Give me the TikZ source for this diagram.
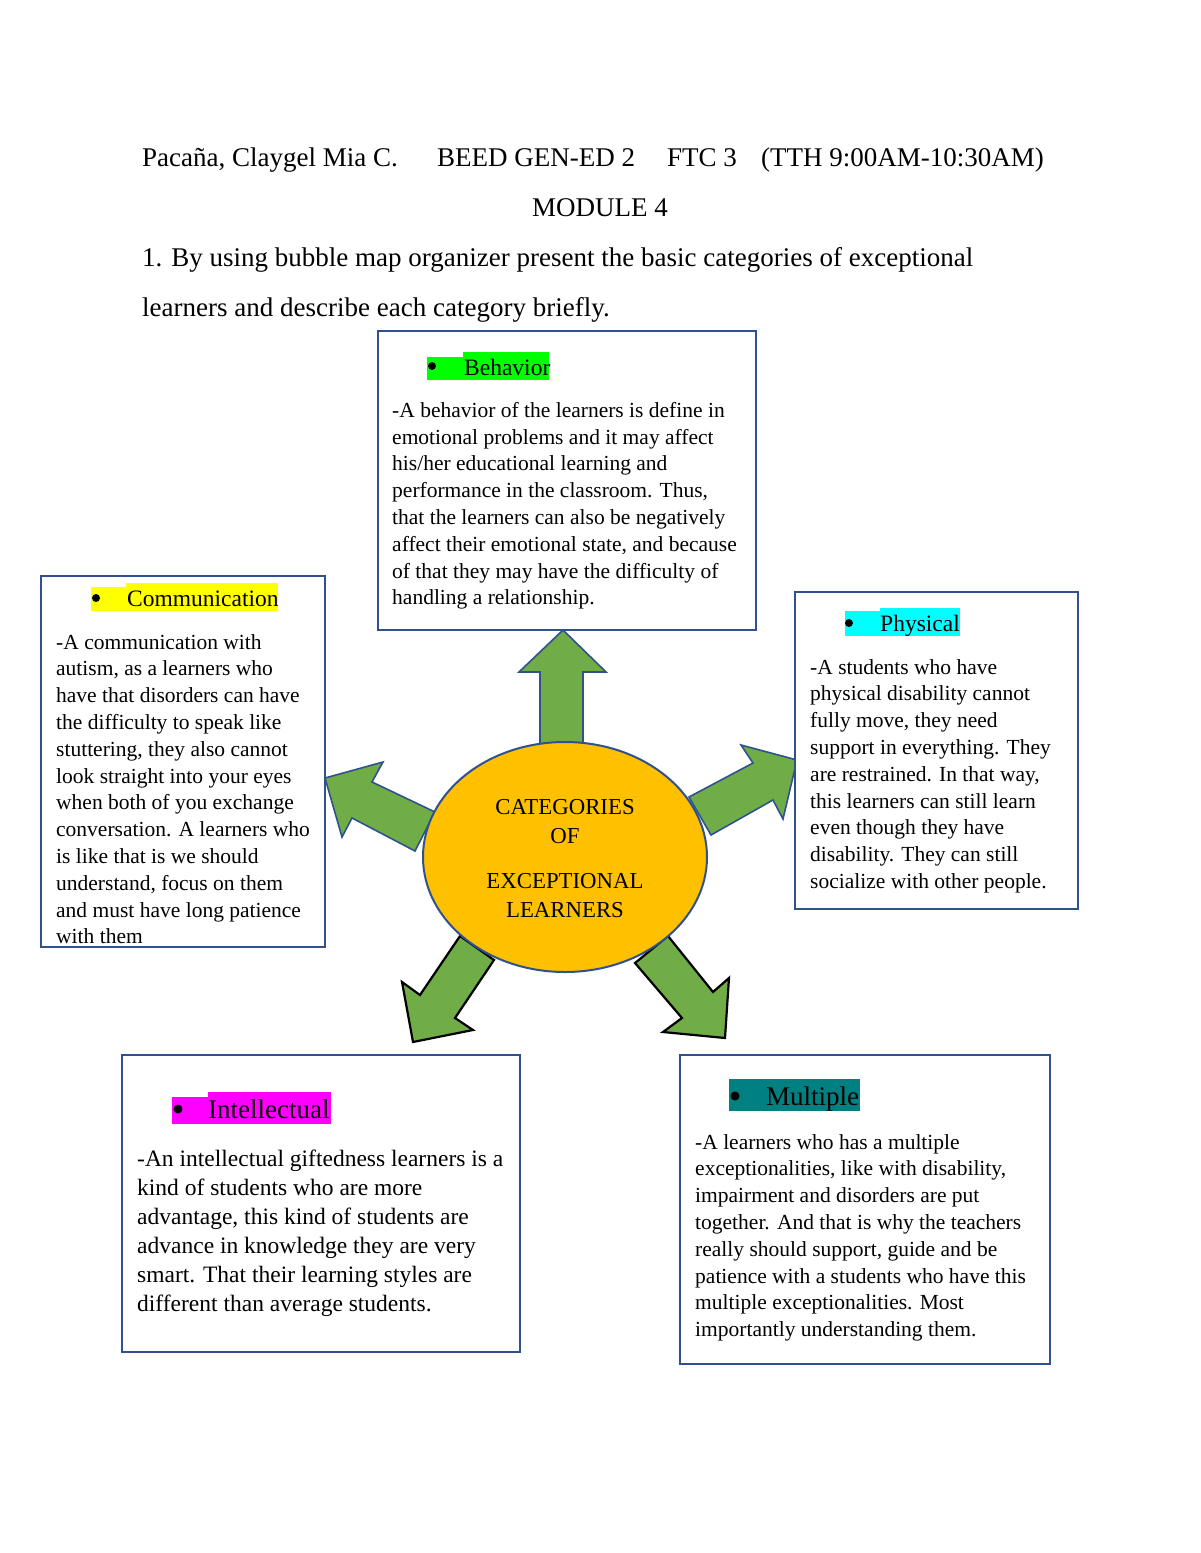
\documentclass[tikz,border=0pt]{standalone}
\usepackage{fontspec}
\setmainfont{Liberation Serif}
\definecolor{boxblue}{HTML}{2F528F}
\definecolor{agreen}{HTML}{70AD47}
\definecolor{ellfill}{HTML}{FFC000}
\definecolor{hlgreen}{HTML}{00FF00}
\definecolor{hlyellow}{HTML}{FFFF00}
\definecolor{hlcyan}{HTML}{00FFFF}
\definecolor{hlmagenta}{HTML}{FF00FF}
\definecolor{hlteal}{HTML}{008080}
\tikzset{
  catbox/.style={draw=boxblue, line width=2pt, fill=white},
  bodytext/.style={anchor=north west, inner sep=0pt, align=left, font=\fontsize{21.5}{26.8}\selectfont},
  bigbody/.style={anchor=north west, inner sep=0pt, align=left, font=\fontsize{23.5}{29}\selectfont},
  headtext/.style={anchor=base west, inner sep=0pt, font=\fontsize{27}{32}\selectfont},
  labeltext/.style={anchor=base west, inner sep=0pt, font=\fontsize{23.5}{28}\selectfont},
  biglabel/.style={anchor=base west, inner sep=0pt, font=\fontsize{27}{32}\selectfont},
  bulletdot/.style={circle, fill=black, inner sep=0pt, minimum size=8pt},
  bigbulletdot/.style={circle, fill=black, inner sep=0pt, minimum size=9pt},
  ellText/.style={anchor=base, inner sep=0pt, font=\fontsize{22.8}{27}\selectfont},
  blockarrowblue/.style={fill=agreen, draw=boxblue, line width=1.6pt, line join=miter},
  blockarrowblack/.style={fill=agreen, draw=black, line width=2.2pt, line join=miter},
}
\begin{document}
\begin{tikzpicture}[x=1pt,y=-1pt]
\useasboundingbox (0,0) rectangle (1200,1553);
\fill[white] (0,0) rectangle (1200,1553);

% Header
\node[headtext] (h1) at (142,166) {Paca\~na, Claygel Mia C.};
\node[headtext] (h2) at (437,166) {BEED GEN-ED 2};
\node[headtext] (h3) at (667,166) {FTC 3};
\node[headtext] (h4) at (761,166) {(TTH 9:00AM-10:30AM)};
\node[headtext, anchor=base] (h5) at (600,216) {MODULE 4};
\node[headtext] (h6) at (142,266) {1. By using bubble map organizer present the basic categories of exceptional};
\node[headtext] (h7) at (142,316) {learners and describe each category briefly.};

% Block arrows (under ellipse)
\draw[blockarrowblue] (540,745) -- (540,672) -- (519,672) -- (563,630) -- (606,672) -- (583,672) -- (583,745) -- cycle;
\draw[blockarrowblue] (435,812) -- (372,782) -- (383,762) -- (325,778) -- (342,837) -- (352,818) -- (415,851) -- cycle;
\draw[blockarrowblue] (689,797) -- (753,763) -- (741,745) -- (797,760) -- (783,819) -- (773,800) -- (711,835) -- cycle;
\draw[blockarrowblack] (460,936) -- (420,995) -- (402,982) -- (413,1042) -- (473,1030) -- (455,1018) -- (494,960) -- cycle;
\draw[blockarrowblack] (668,936) -- (713,992) -- (729,978) -- (725,1038) -- (663,1032) -- (682,1018) -- (635,963) -- cycle;

% Central ellipse
\draw[fill=ellfill, draw=boxblue, line width=2pt] (565,857) ellipse [x radius=142, y radius=115];
\node[ellText] (e1) at (565,814) {CATEGORIES};
\node[ellText] (e2) at (565,843.5) {OF};
\node[ellText] (e3) at (565,888.5) {EXCEPTIONAL};
\node[ellText] (e4) at (565,917.5) {LEARNERS};

% Behavior box
\draw[catbox] (378,331) rectangle (756,630);
\fill[hlgreen] (427,357) rectangle (465,380);
\fill[hlgreen] (463,352) rectangle (549,380);
\node[bulletdot] (bb) at (432,366) {};
\node[labeltext] (bl) at (464,375) {Behavior};
\node[bodytext] (bt) at (392,402) {-A behavior of the learners is define in\\emotional problems and it may affect\\his/her educational learning and\\performance in the classroom. Thus,\\that the learners can also be negatively\\affect their emotional state, and because\\of that they may have the difficulty of\\handling a relationship.};

% Communication box
\draw[catbox] (41,576) rectangle (325,947);
\fill[hlyellow] (91,587) rectangle (128,611);
\fill[hlyellow] (126,583) rectangle (278,611);
\node[bulletdot] (cb) at (96,598) {};
\node[labeltext] (cl) at (127,606) {Communication};
\begin{scope}
\clip (43,578) rectangle (323,943);
\node[bodytext] (ct) at (56,634) {-A communication with\\autism, as a learners who\\have that disorders can have\\the difficulty to speak like\\stuttering, they also cannot\\look straight into your eyes\\when both of you exchange\\conversation. A learners who\\is like that is we should\\understand, focus on them\\and must have long patience\\with them};
\end{scope}

% Physical box
\draw[catbox] (795,592) rectangle (1078,909);
\fill[hlcyan] (845,611) rectangle (882,636);
\fill[hlcyan] (880,608) rectangle (960,636);
\node[bulletdot] (pb) at (849,623) {};
\node[labeltext] (pl) at (880,631) {Physical};
\node[bodytext] (pt) at (810,659) {-A students who have\\physical disability cannot\\fully move, they need\\support in everything. They\\are restrained. In that way,\\this learners can still learn\\even though they have\\disability. They can still\\socialize with other people.};

% Intellectual box
\draw[catbox] (122,1055) rectangle (520,1352);
\fill[hlmagenta] (172,1097) rectangle (210,1124);
\fill[hlmagenta] (208,1092) rectangle (331,1124);
\node[bigbulletdot] (ib) at (178,1109) {};
\node[biglabel] (il) at (208,1118) {Intellectual};
\node[bigbody] (it) at (137,1150) {-An intellectual giftedness learners is a\\kind of students who are more\\advantage, this kind of students are\\advance in knowledge they are very\\smart. That their learning styles are\\different than average students.};

% Multiple box
\draw[catbox] (680,1055) rectangle (1050,1364);
\fill[hlteal] (729,1079) rectangle (860,1111);
\node[bigbulletdot] (mb) at (735,1096) {};
\node[biglabel] (ml) at (766,1105) {Multiple};
\node[bodytext] (mt) at (695,1134) {-A learners who has a multiple\\exceptionalities, like with disability,\\impairment and disorders are put\\together. And that is why the teachers\\really should support, guide and be\\patience with a students who have this\\multiple exceptionalities. Most\\importantly understanding them.};

\end{tikzpicture}
\end{document}
